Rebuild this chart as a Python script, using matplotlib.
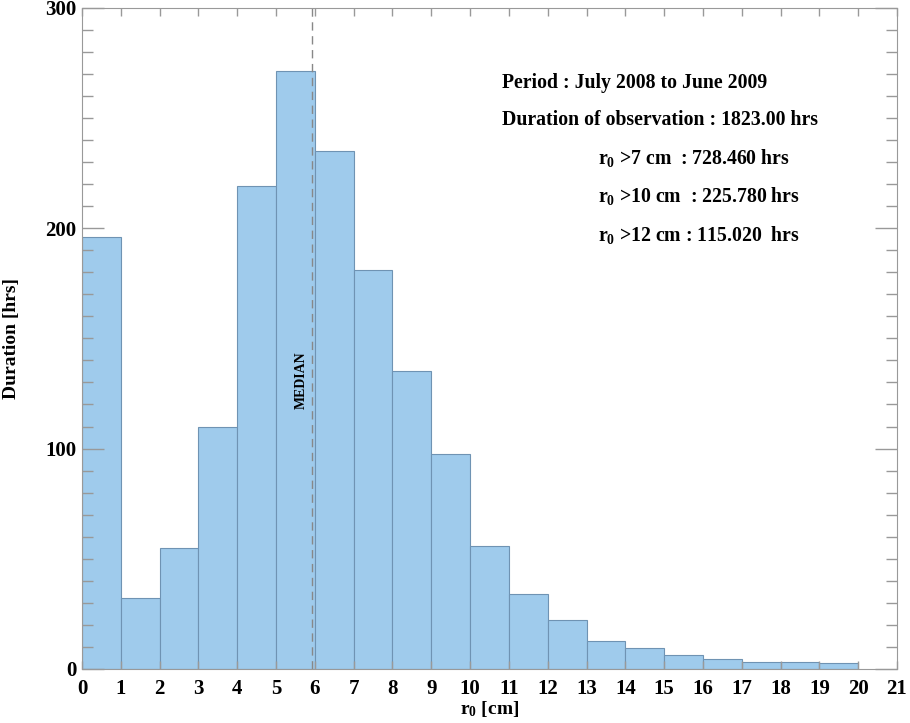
import numpy as np
import matplotlib.pyplot as plt
from matplotlib.ticker import MultipleLocator

plt.rcParams['font.family'] = 'Liberation Serif'
plt.rcParams['font.weight'] = 'bold'
plt.rcParams['mathtext.fontset'] = 'custom'
plt.rcParams['mathtext.rm'] = 'Liberation Serif:bold'
plt.rcParams['mathtext.it'] = 'Liberation Serif:bold'
plt.rcParams['mathtext.default'] = 'rm'

# histogram data
bin_edges = np.arange(0, 21)
durations = [196, 32, 55, 110, 219, 271.5, 235, 181, 135, 97.5,
             56, 34, 22, 12.8, 9.4, 6.2, 4.4, 3.3, 3.0, 2.6]
median_r0 = 5.93
info_lines = ['Period : July 2008 to June 2009',
              'Duration of observation : 1823.00 hrs']
r0_lines = ['r$_0$ >7 cm  : 728.460 hrs',
            'r$_0$ >10 cm  : 225.780 hrs',
            'r$_0$ >12 cm : 115.020  hrs']

fig = plt.figure(figsize=(9.1, 7.23), dpi=100)
ax = fig.add_axes([0.0901, 0.0747, 0.8956, 0.9146])

ax.bar(bin_edges[:-1], durations, width=1, align='edge',
       color='#9fcbec', edgecolor='#6f93b3', linewidth=0.8)

ax.axvline(median_r0, color='#888888', linestyle=(0, (6, 4)), linewidth=1)
ax.text(median_r0 - 0.27, 131, 'MEDIAN', rotation=90, fontsize=10,
        ha='center', va='center')

ax.set_xlim(0, 21)
ax.set_ylim(0, 300)
ax.xaxis.set_major_locator(MultipleLocator(1))
ax.yaxis.set_major_locator(MultipleLocator(100))
ax.yaxis.set_minor_locator(MultipleLocator(10))
ax.tick_params(axis='both', which='both', direction='in', top=True, right=True,
               color='#999999', labelsize=15, width=1)
ax.tick_params(axis='x', which='major', length=6, pad=7)
ax.tick_params(axis='y', which='major', length=16, pad=4)
ax.tick_params(axis='y', which='minor', length=8)
for s in ax.spines.values():
    s.set_color('#999999')
for lab in ax.get_xticklabels() + ax.get_yticklabels():
    lab.set_fontweight('bold')

ax.set_xlabel('r$_0$ [cm]', fontsize=14, fontweight='bold', labelpad=0)
ax.set_ylabel('Duration [hrs]', fontsize=14, fontweight='bold', labelpad=18)

ys = [266, 249, 232, 214.5, 197]
for i, t in enumerate(info_lines):
    ax.text(10.82, ys[i], t, fontsize=14.2, fontweight='bold', va='center')
for i, t in enumerate(r0_lines):
    ax.text(13.3, ys[i + 2], t, fontsize=14.2, fontweight='bold', va='center')

fig.savefig('out.png', dpi=100)
